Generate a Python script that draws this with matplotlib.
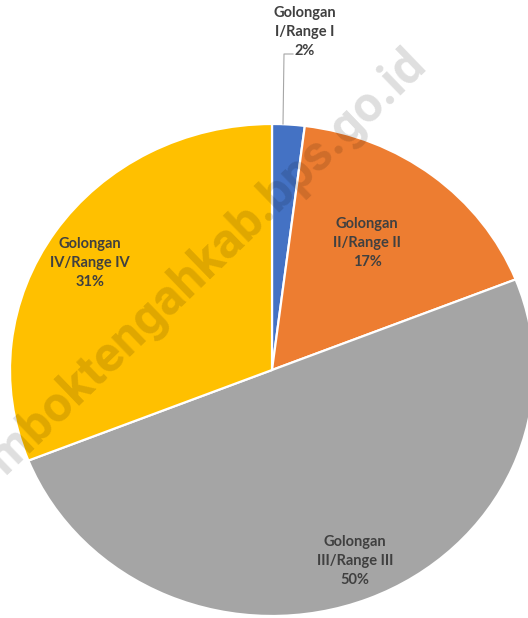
import matplotlib
matplotlib.use("Agg")
import matplotlib.pyplot as plt
from matplotlib.lines import Line2D

categories = ["Golongan\nI/Range I", "Golongan\nII/Range II", "Golongan\nIII/Range III", "Golongan\nIV/Range IV"]
values = [2, 17, 50, 31]
colors = ["#4472C4", "#ED7D31", "#A5A5A5", "#FFC000"]
watermark = "lomboktengahkab.bps.go.id"

W, H = 528, 618
fig = plt.figure(figsize=(W / 100, H / 100), dpi=100)

def fx(x):
    return x / W

def fy(y):
    return 1 - y / H

# pie axes: center (272,370), rx 262, ry 246
cx, cy, rx, ry = 272, 370, 262, 246
ax = fig.add_axes([fx(cx - rx), fy(cy + ry), 2 * rx / W, 2 * ry / H])
ax.pie(values, colors=colors, startangle=90, counterclock=False,
       wedgeprops=dict(edgecolor="white", linewidth=1.6), radius=1.0)
ax.set_aspect("auto")
ax.set_xlim(-1, 1)
ax.set_ylim(-1, 1)
ax.axis("off")
for p in ax.patches:
    p.set_clip_on(False)

lab_font = dict(family=["Lato", "DejaVu Sans"], fontweight="bold", fontsize=10.5,
                color="#404040", ha="center", va="center", linespacing=1.45)

label_pos = [(305, 32), (367, 243), (355, 561), (90, 263)]
for cat, v, (x, y) in zip(categories, values, label_pos):
    fig.text(fx(x), fy(y), f"{cat}\n{v}%", **lab_font)

# leader line for smallest slice
fig.add_artist(Line2D([fx(293), fx(284), fx(283)], [fy(54), fy(54), fy(124)],
                      color="#A6A6A6", linewidth=0.8))

# watermark
fig.text(fx(428), fy(66), watermark, rotation=44, rotation_mode="anchor",
         ha="right", va="baseline", fontsize=36, fontweight="bold",
         family=["Roboto", "DejaVu Sans"], color="black", alpha=0.13)

fig.savefig("out.png", dpi=100)
